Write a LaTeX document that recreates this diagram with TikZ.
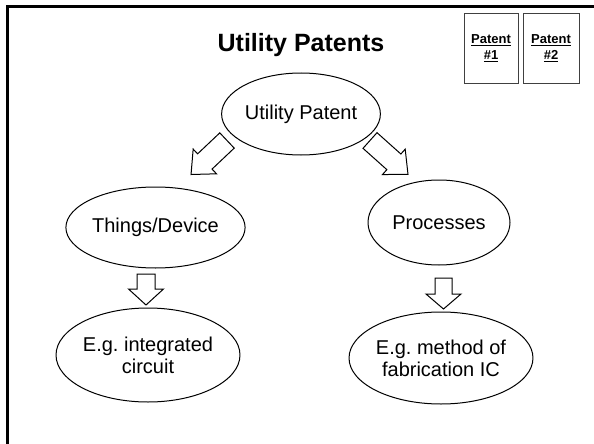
\documentclass[tikz,border=0pt]{standalone}
\usepackage{fontspec}
\setmainfont{Liberation Sans}
\usetikzlibrary{shapes.geometric}
\frenchspacing
\tikzset{
  x=1pt, y=-1pt,
  ell/.style={ellipse, draw, line width=1pt, inner sep=0pt, align=center,
    font=\fontsize{20}{22}\selectfont},
  patentbox/.style={draw=black!75, line width=1pt, minimum width=#1, minimum height=69,
    inner sep=0pt, align=center, font=\fontsize{13}{16}\selectfont\bfseries},
  arrowline/.style={draw, line width=1pt, fill=white, line join=miter},
  pics/blockarrow/.style n args={4}{code={
    % #1 length, #2 shaft half width, #3 head half width, #4 head length
    \draw[arrowline] (0,-#2) -- ({#1-#4},-#2) -- ({#1-#4},-#3) -- (#1,0)
      -- ({#1-#4},#3) -- ({#1-#4},#2) -- (0,#2) -- cycle;
  }}
}
\begin{document}
\begin{tikzpicture}
\useasboundingbox (0,0) rectangle (594,444);

% slide frame
\draw[line width=2.5pt] (594,6.5) -- (7.5,6.5) -- (7.5,444);

% heading
\node[anchor=base, inner sep=0pt, font=\fontsize{25}{28}\selectfont\bfseries] (title) at (301,52) {Utility Patents};

% patent tabs
\node[patentbox=54] (p1) at (491,48.5) {\underline{Patent}\\\underline{\#1}};
\node[patentbox=56] (p2) at (551,48.5) {\underline{Patent}\\\underline{\#2}};

% tree
\node[ell, minimum width=142, minimum height=82] (up) at (301,114) {Utility Patent};
\node[ell, minimum width=143, minimum height=81] (things) at (155.5,227.5) {Things/Device};
\node[ell, minimum width=142, minimum height=85] (proc) at (439,222.5) {Processes};
\node[ell, minimum width=146, minimum height=94] (ic) at (148,355) {E.g. integrated\\circuit};
\node[ell, minimum width=144, minimum height=92] (fab) at (441,358) {E.g. method of\\fabrication IC};

% block arrows
\pic[rotate=223.4] at (227,140.5) {blockarrow={49.5}{10.5}{17}{19}};
\pic[rotate=-41.8] at (370,140.5) {blockarrow={51}{10.5}{17}{19}};
\pic[rotate=-90] at (146,274) {blockarrow={31}{9}{17.5}{16}};
\pic[rotate=-90] at (443.5,278) {blockarrow={31}{8.5}{17.5}{15}};
\end{tikzpicture}
\end{document}
